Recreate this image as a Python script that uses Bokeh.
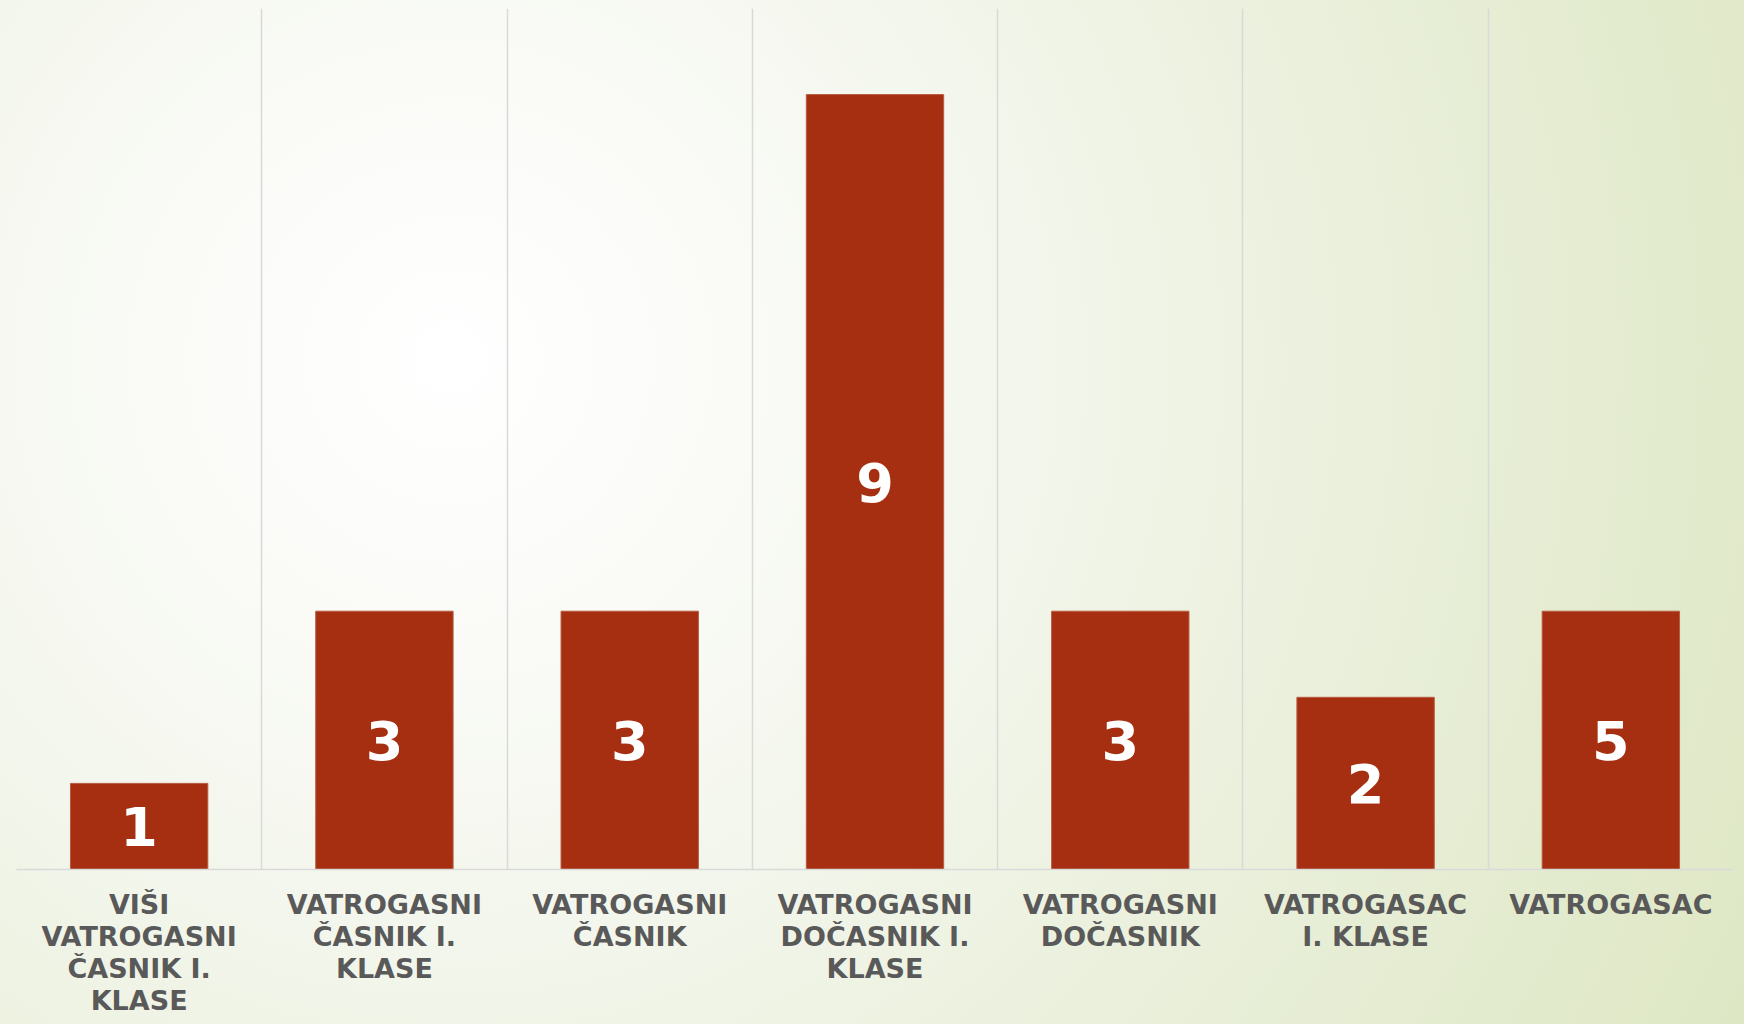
from bokeh.plotting import figure
from bokeh.models import ColumnDataSource, Range1d, FixedTicker, GlobalInlineStyleSheet
from bokeh.core.properties import value
from bokeh.embed import file_html
from bokeh.resources import INLINE

# ---- data ----
categories = [
    "VIŠI\nVATROGASNI\nČASNIK I.\nKLASE",
    "VATROGASNI\nČASNIK I.\nKLASE",
    "VATROGASNI\nČASNIK",
    "VATROGASNI\nDOČASNIK I.\nKLASE",
    "VATROGASNI\nDOČASNIK",
    "VATROGASAC\nI. KLASE",
    "VATROGASAC",
]
bar_values = [1, 3, 3, 9, 3, 2, 3]
value_labels = ["1", "3", "3", "9", "3", "2", "5"]

xs = list(range(len(categories)))
src = ColumnDataSource(dict(
    x=xs,
    top=bar_values,
    mid=[v / 2 for v in bar_values],
    lab=value_labels,
))

css = GlobalInlineStyleSheet(css="""
html {
  min-height: 100%;
  background: radial-gradient(circle farthest-corner at 450px 360px,
     #ffffff 0%, #fafbf7 20%, #f3f6ec 40%, #edf2e1 55%, #e6edd4 75%, #dee7c4 100%);
  background-attachment: fixed;
}
body { background: transparent; }
""")

p = figure(
    width=1733, height=1016,
    frame_width=1717, frame_height=861,
    x_range=Range1d(-0.5, len(categories) - 0.5),
    y_range=Range1d(0, 10),
    output_backend="svg", toolbar_location=None,
    min_border_left=16, min_border_right=0, min_border_top=8, min_border_bottom=150,
)
p.stylesheets = [css]
p.background_fill_alpha = 0
p.border_fill_alpha = 0
p.outline_line_color = None

p.vbar(x="x", top="top", width=0.56, source=src,
       fill_color="#A52F10", line_color="#B85A42", line_width=1)
p.text(x="x", y="mid", text="lab", source=src,
       text_font=value("DejaVu Sans"), text_font_style="bold",
       text_font_size="54px", text_color="white",
       text_align="center", text_baseline="middle")

# grid lines at category boundaries
p.xgrid.ticker = FixedTicker(ticks=[i - 0.5 for i in range(len(categories) + 1)])
p.xgrid.grid_line_color = "#d9d9d9"
p.xgrid.grid_line_width = 1.5
p.ygrid.grid_line_color = None

p.yaxis.visible = False
ax = p.xaxis[0]
ax.ticker = FixedTicker(ticks=xs)
ax.major_label_overrides = {i: c for i, c in zip(xs, categories)}
ax.axis_line_color = "#d9d9d9"
ax.axis_line_width = 1.5
ax.major_tick_line_color = None
ax.minor_tick_line_color = None
ax.major_label_standoff = 13
ax.major_label_text_font = "DejaVu Sans"
ax.major_label_text_font_style = "bold"
ax.major_label_text_font_size = "27px"
ax.major_label_text_color = "#595959"
ax.major_label_text_line_height = 1.04

open("out.html", "w").write(file_html(p, INLINE))
